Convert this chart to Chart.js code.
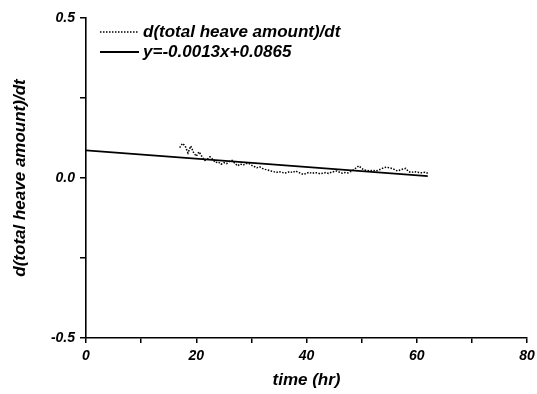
<!DOCTYPE html>
<html>
<head>
<meta charset="utf-8">
<script src="https://cdn.jsdelivr.net/npm/chart.js@4.4.1/dist/chart.umd.min.js"></script>
<style>
  html, body { margin: 0; padding: 0; background: #fff; }
  #wrap { width: 537px; height: 394px; }
</style>
</head>
<body>
<div id="wrap"><canvas id="heaveChart" width="537" height="394"></canvas></div>
<script>
const times = [
  17.0, 17.5, 18.0, 18.5, 19.0, 19.5, 20.0, 20.5, 21.0, 21.5,
  22.0, 22.5, 23.0, 23.5, 24.0, 24.5, 25.0, 25.5, 26.0, 26.5,
  27.0, 27.5, 28.0, 28.5, 29.0, 29.5, 30.0, 30.5, 31.0, 31.5,
  32.0, 32.5, 33.0, 33.5, 34.0, 34.5, 35.0, 35.5, 36.0, 36.5,
  37.0, 37.5, 38.0, 38.5, 39.0, 39.5, 40.0, 40.5, 41.0, 41.5,
  42.0, 42.5, 43.0, 43.5, 44.0, 44.5, 45.0, 45.5, 46.0, 46.5,
  47.0, 47.5, 48.0, 48.5, 49.0, 49.5, 50.0, 50.5, 51.0, 51.5,
  52.0, 52.5, 53.0, 53.5, 54.0, 54.5, 55.0, 55.5, 56.0, 56.5,
  57.0, 57.5, 58.0, 58.5, 59.0, 59.5, 60.0, 60.5, 61.0, 61.5,
  62.0
];
const rates = [
  0.095, 0.108, 0.100, 0.078, 0.100, 0.080, 0.068, 0.082, 0.068, 0.055,
  0.058, 0.066, 0.058, 0.048, 0.050, 0.043, 0.048, 0.045, 0.052, 0.055,
  0.046, 0.038, 0.044, 0.040, 0.045, 0.046, 0.040, 0.036, 0.032, 0.035,
  0.030, 0.027, 0.025, 0.022, 0.020, 0.017, 0.020, 0.018, 0.015, 0.017,
  0.020, 0.017, 0.022, 0.018, 0.014, 0.011, 0.015, 0.018, 0.014, 0.017,
  0.016, 0.013, 0.015, 0.017, 0.014, 0.018, 0.020, 0.022, 0.018, 0.015,
  0.017, 0.016, 0.020, 0.025, 0.032, 0.038, 0.030, 0.025, 0.024, 0.022,
  0.024, 0.022, 0.024, 0.028, 0.032, 0.034, 0.032, 0.030, 0.026, 0.022,
  0.025, 0.028, 0.030, 0.020, 0.017, 0.020, 0.018, 0.017, 0.016, 0.018,
  0.015
];

// linear fit end points
const fitTimes = [0, 62];
const fitRates = [0.0865, 0.0059];

const xTickLabels = [0, 20, 40, 60, 80];
const yTickLabels = [-0.5, 0, 0.5];

const FONT = '"Liberation Sans", Arial, sans-serif';

// legend drawn inside the plot, top left
const insideLegend = {
    id: 'insideLegend',
    afterDraw(chart) {
        const ctx = chart.ctx;
        const area = chart.chartArea;
        const x0 = area.left + 14;
        let y = area.top + 14;
        ctx.save();
        chart.data.datasets.forEach(ds => {
            ctx.beginPath();
            ctx.strokeStyle = '#000';
            ctx.lineWidth = ds.borderWidth;
            ctx.setLineDash(ds.borderDash || []);
            ctx.moveTo(x0, y);
            ctx.lineTo(x0 + 39, y);
            ctx.stroke();
            ctx.setLineDash([]);
            ctx.fillStyle = '#000';
            ctx.font = 'italic bold 17px ' + FONT;
            ctx.textBaseline = 'middle';
            ctx.fillText(ds.label, x0 + 43, y);
            y += 20;
        });
        ctx.restore();
    }
};

function makeChart() {
    const ctx = document.getElementById('heaveChart').getContext('2d');
    return new Chart(ctx, {
        type: 'line',
        data: {
            datasets: [
                {
                    label: 'd(total heave amount)/dt',
                    data: times.map((t, i) => ({ x: t, y: rates[i] })),
                    borderColor: '#000',
                    borderWidth: 1.5,
                    borderDash: [1.5, 1.5],
                    pointRadius: 0,
                    fill: false,
                    tension: 0
                },
                {
                    label: 'y=-0.0013x+0.0865',
                    data: fitTimes.map((t, i) => ({ x: t, y: fitRates[i] })),
                    borderColor: '#000',
                    borderWidth: 1.8,
                    pointRadius: 0,
                    fill: false
                }
            ]
        },
        options: {
            responsive: false,
            animation: false,
            layout: { padding: { top: 18, right: 10, left: 10, bottom: 3 } },
            plugins: {
                legend: { display: false },
                tooltip: { enabled: false }
            },
            scales: {
                x: {
                    type: 'linear',
                    min: 0,
                    max: 80,
                    afterFit(scale) {
                        scale.height = 53;
                        scale.paddingLeft = 0;
                        scale.paddingRight = 0;
                    },
                    border: { color: '#000', width: 1.6 },
                    grid: {
                        drawOnChartArea: false,
                        color: '#000',
                        lineWidth: 1.5,
                        tickLength: 5
                    },
                    ticks: {
                        stepSize: 10,
                        maxRotation: 0,
                        autoSkip: false,
                        padding: 5,
                        color: '#000',
                        font: { family: FONT, size: 14, style: 'italic', weight: 'bold' },
                        callback: v => xTickLabels.includes(v) ? String(v) : ''
                    },
                    title: {
                        display: true,
                        text: 'time (hr)',
                        color: '#000',
                        padding: 0,
                        font: { family: FONT, size: 17, style: 'italic', weight: 'bold' }
                    }
                },
                y: {
                    type: 'linear',
                    min: -0.5,
                    max: 0.5,
                    afterFit(scale) { scale.width = 76; },
                    border: { color: '#000', width: 1.6 },
                    grid: {
                        drawOnChartArea: false,
                        color: '#000',
                        lineWidth: 1.5,
                        tickLength: 6
                    },
                    ticks: {
                        stepSize: 0.25,
                        autoSkip: false,
                        padding: 5,
                        color: '#000',
                        font: { family: FONT, size: 14, style: 'italic', weight: 'bold' },
                        callback: v => yTickLabels.includes(v) ? v.toFixed(1) : ''
                    },
                    title: {
                        display: true,
                        text: 'd(total heave amount)/dt',
                        color: '#000',
                        padding: 0,
                        font: { family: FONT, size: 17, style: 'italic', weight: 'bold' }
                    }
                }
            }
        },
        plugins: [insideLegend]
    });
}

document.addEventListener('DOMContentLoaded', () => {
    makeChart();
});
</script>
</body>
</html>
